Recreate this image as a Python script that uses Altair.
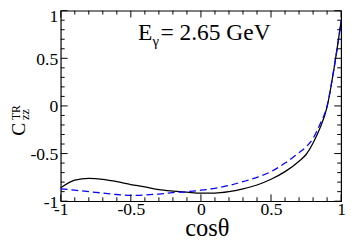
import altair as alt
import pandas as pd

# ---- data ----
cos_theta = [-1.0, -0.9, -0.8, -0.7, -0.6, -0.5, -0.4, -0.3, -0.2, -0.1, 0.0, 0.1,
             0.2, 0.3, 0.4, 0.5, 0.6, 0.7, 0.75, 0.8, 0.85, 0.9, 0.95, 1.0]
c_solid = [-0.86, -0.78, -0.76, -0.77, -0.795, -0.825, -0.85, -0.88, -0.895, -0.905, -0.915, -0.915,
           -0.90, -0.87, -0.83, -0.77, -0.69, -0.58, -0.51, -0.39, -0.23, -0.01, 0.40, 0.89]
c_dashed = [-0.87, -0.885, -0.90, -0.915, -0.93, -0.94, -0.935, -0.925, -0.91, -0.90, -0.885, -0.865,
            -0.835, -0.795, -0.75, -0.69, -0.60, -0.49, -0.43, -0.34, -0.19, 0.0, 0.40, 0.89]

major_ticks = [-1.0, -0.5, 0.0, 0.5, 1.0]
minor_ticks = [-0.9, -0.8, -0.7, -0.6, -0.4, -0.3, -0.2, -0.1,
               0.1, 0.2, 0.3, 0.4, 0.6, 0.7, 0.8, 0.9]

energy_label = ["E", "γ", "= 2.65 GeV"]
y_title = ["C", "TR", "zz"]
x_title = ["cosθ"]

W, H = 287, 195
FONT = "Liberation Serif"

df = pd.DataFrame({"c": cos_theta * 2,
                   "v": c_solid + c_dashed,
                   "s": ["solid"] * len(cos_theta) + ["dashed"] * len(cos_theta)})

xs = alt.Scale(domain=[-1, 1], nice=False, zero=False)
ys = alt.Scale(domain=[-1, 1], nice=False, zero=False)

label_expr = "'' + datum.value"
x_axis = alt.Axis(values=major_ticks, ticks=False, domain=False, grid=False, title=None,
                  labelFont=FONT, labelFontSize=18, labelColor="black", labelPadding=0,
                  labelFlush=False, labelExpr=label_expr)
y_axis = alt.Axis(values=major_ticks, ticks=False, domain=False, grid=False, title=None,
                  labelFont=FONT, labelFontSize=18, labelColor="black", labelPadding=3,
                  labelFlush=False, labelExpr=label_expr,
                  labelOffset={"condition": {"test": "datum.value == 1", "value": 6},
                               "value": 1})

solid = alt.Chart(df).transform_filter("datum.s == 'solid'").mark_line(
    color="black", strokeWidth=1.3, interpolate="monotone"
).encode(x=alt.X("c:Q", scale=xs, axis=x_axis), y=alt.Y("v:Q", scale=ys, axis=y_axis))

dashed = alt.Chart(df).transform_filter("datum.s == 'dashed'").mark_line(
    color="#0000ff", strokeWidth=1.3, strokeDash=[7, 4], interpolate="monotone"
).encode(x=alt.X("c:Q", scale=xs), y=alt.Y("v:Q", scale=ys))

# ticks (inward, on all four sides)
def xticks(vals, ln):
    d = pd.DataFrame({"t": vals})
    bottom = alt.Chart(d).mark_rule(color="black", strokeWidth=1).encode(
        x=alt.X("t:Q", scale=xs), y=alt.value(H), y2=alt.value(H - ln))
    top = alt.Chart(d).mark_rule(color="black", strokeWidth=1).encode(
        x=alt.X("t:Q", scale=xs), y=alt.value(0), y2=alt.value(ln))
    return [bottom, top]

def yticks(vals, ln):
    d = pd.DataFrame({"t": vals})
    left = alt.Chart(d).mark_rule(color="black", strokeWidth=1).encode(
        y=alt.Y("t:Q", scale=ys), x=alt.value(0), x2=alt.value(ln))
    right = alt.Chart(d).mark_rule(color="black", strokeWidth=1).encode(
        y=alt.Y("t:Q", scale=ys), x=alt.value(W), x2=alt.value(W - ln))
    return [left, right]

tick_layers = xticks(major_ticks, 7) + xticks(minor_ticks, 4) + yticks(major_ticks, 7) + yticks(minor_ticks, 4)

def txt(s, x, y, size, angle=0, align="left", baseline="alphabetic"):
    d = pd.DataFrame({"t": [s]})
    kw = dict(font=FONT, fontSize=size, color="black", align=align, baseline=baseline)
    if angle:
        kw["angle"] = angle
    return alt.Chart(d).mark_text(**kw).encode(text="t:N", x=alt.value(x), y=alt.value(y))

texts = [
    txt(energy_label[0], 79, 30, 24),
    txt(energy_label[1], 94, 36, 15),
    txt(energy_label[2], 102, 30, 24),
    txt(y_title[0], -37, 128, 20, angle=270),
    txt(y_title[1], -42, 112, 12, angle=270),
    txt(y_title[2], -33, 112, 13, angle=270),
    txt(x_title[0], 150, 231, 25, align="center"),
]

chart = alt.layer(solid, dashed, *tick_layers, *texts).properties(
    width=W, height=H,
    autosize=alt.AutoSizeParams(type="none"),
    padding={"left": 54, "top": 0, "right": 5, "bottom": 37},
).configure_view(stroke="black", strokeWidth=1.2)

chart.save("out.html", embed_options={"renderer": "svg", "actions": False})
